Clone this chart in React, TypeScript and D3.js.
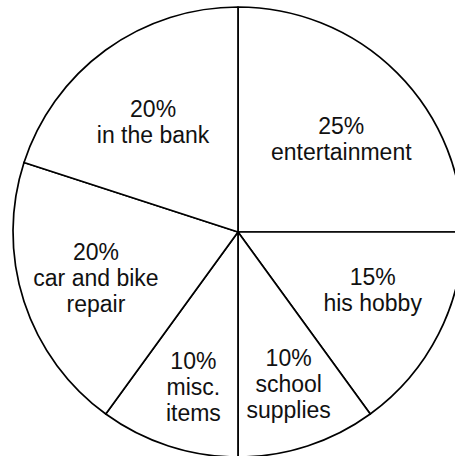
import React from "react";
import * as d3 from "d3";

const categories: string[][] = [
  ["entertainment"],
  ["his hobby"],
  ["school", "supplies"],
  ["misc.", "items"],
  ["car and bike", "repair"],
  ["in the bank"],
];
const percents: number[] = [25, 15, 10, 10, 20, 20];

const W = 455;
const H = 456;
const CX = 238;
const CY = 232;
const R = 225;
const FONT = 23;
const LINE = 26;
// small hand-placement tweaks of the label blocks, as in the source drawing
const LABEL_NUDGE: [number, number][] = [
  [5, 5],
  [-2, -12],
  [1, -1],
  [5, 2],
  [-3, 1],
  [1, 8],
];

type D = { p: number; lines: string[] };

export default function App() {
  const items: D[] = percents.map((p, i) => ({ p, lines: categories[i] }));
  const pie = d3
    .pie<D>()
    .value((d) => d.p)
    .sort(null)
    .startAngle(0)
    .endAngle(2 * Math.PI);
  const arcs = pie(items);
  const arcGen = d3.arc<d3.PieArcDatum<D>>().innerRadius(0).outerRadius(R);

  return (
    <svg
      width={W}
      height={H}
      style={{ position: "absolute", left: 0, top: 0, overflow: "hidden", background: "#fff" }}
    >
      <g transform={`translate(${CX},${CY})`}>
        {arcs.map((a, i) => (
          <path key={i} d={arcGen(a) || ""} fill="#fff" stroke="#000" strokeWidth={1.7} strokeLinejoin="round" />
        ))}
        {arcs.map((a, i) => {
          const deg = ((a.endAngle - a.startAngle) * 180) / Math.PI;
          const lr = 175 - 0.4 * deg;
          const [cx, cy] = d3.arc<d3.PieArcDatum<D>>().innerRadius(lr).outerRadius(lr).centroid(a);
          const x = cx + LABEL_NUDGE[i][0];
          const y = cy + LABEL_NUDGE[i][1];
          const lines = [`${a.data.p}%`, ...a.data.lines];
          const n = lines.length;
          const first = y - ((n - 1) * LINE) / 2 + 8;
          return (
            <text
              key={"t" + i}
              textAnchor="middle"
              fontFamily="'Liberation Sans', Arial, Helvetica, sans-serif"
              fontSize={FONT}
              fill="#111"
            >
              {lines.map((l, j) => (
                <tspan key={j} x={x} y={first + j * LINE}>
                  {l}
                </tspan>
              ))}
            </text>
          );
        })}
      </g>
    </svg>
  );
}
